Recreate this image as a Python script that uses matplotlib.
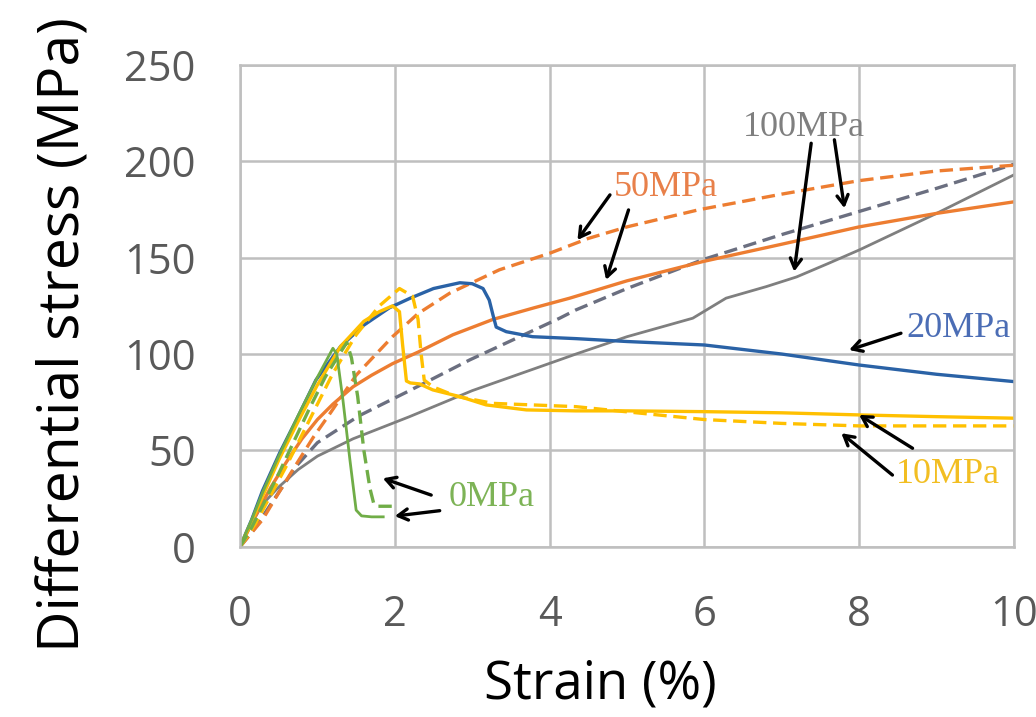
import numpy as np
import matplotlib.pyplot as plt

# strain (%) / differential stress (MPa)
x_0s = [0, 0.15, 0.3, 0.5, 0.75, 1.0, 1.2, 1.25, 1.33, 1.42, 1.50, 1.57, 1.7, 1.85]
y_0s = [0, 14, 29, 47, 68, 88, 103, 100, 76, 45, 19, 16, 15.5, 15.5]
x_0d = [0, 0.15, 0.3, 0.5, 0.7, 0.9, 1.1, 1.3, 1.38, 1.44, 1.52, 1.6, 1.68, 1.73, 1.78, 1.9, 2.04]
y_0d = [0, 10, 22, 38, 55, 72, 88, 101, 106, 98, 78, 50, 30, 22, 21, 21, 21]

x_10s = [0, 0.15, 0.3, 0.5, 0.75, 1.0, 1.3, 1.6, 1.8, 1.97, 2.06, 2.1, 2.15, 2.2, 2.32, 2.49, 2.84, 3.18, 3.7, 4.34, 5, 6, 7, 8, 9, 10]
y_10s = [0, 13, 27, 45, 65, 84, 104, 117, 122, 125, 122, 105, 86, 85, 84.5, 81.4, 77.9, 73.6, 71, 70.5, 70.5, 70.1, 69.5, 68.4, 67.5, 66.7]
x_10d = [0, 0.2, 0.4, 0.6, 0.9, 1.2, 1.5, 1.8, 2.06, 2.23, 2.3, 2.34, 2.38, 2.49, 2.8, 3.27, 4.34, 5, 6, 7, 8, 9, 10]
y_10d = [0, 12, 27, 42, 66, 90, 110, 125, 134, 130, 118, 100, 86.5, 83, 78, 74.4, 72.7, 70, 66, 64, 62.7, 62.7, 62.7]

x_20 = [0, 0.15, 0.29, 0.51, 0.73, 0.98, 1.3, 1.6, 1.93, 2.2, 2.5, 2.84, 3.0, 3.14, 3.22, 3.27, 3.31, 3.44, 3.78, 4.34, 5, 6, 7, 8, 9, 10]
y_20 = [0, 14, 29, 48.5, 66, 86.5, 104, 115, 124, 129, 134, 137, 136.5, 134, 128, 120, 114, 111.6, 109, 108, 106.5, 104.7, 100, 94.3, 89.5, 85.7]

x_50s = [0, 0.2, 0.4, 0.6, 0.8, 1.0, 1.2, 1.46, 1.7, 1.97, 2.3, 2.75, 3.27, 3.8, 4.26, 5.0, 5.98, 7.0, 8.0, 9.0, 10]
y_50s = [0, 16, 31, 44, 56, 66, 74, 83, 89, 95, 101, 110, 118, 124, 129, 138, 148, 157, 166, 173, 179]
x_50d = [0, 0.29, 0.5, 0.73, 0.95, 1.16, 1.5, 1.97, 2.3, 2.71, 3.35, 4.0, 4.5, 5.0, 5.94, 7, 8, 9, 10]
y_50d = [0, 14, 28, 43, 57, 69, 89, 109, 121, 131.6, 143.7, 152.3, 160, 166, 175, 183, 190, 195, 198]

x_100s = [0, 0.15, 0.29, 0.5, 0.75, 1.0, 1.46, 2.19, 3.0, 4.13, 4.34, 5.0, 5.85, 6.28, 6.8, 7.19, 7.6, 8.0, 9.0, 10]
y_100s = [0, 12, 22, 31, 40, 47, 56, 67.5, 81, 97, 100, 109, 118.6, 129, 135, 140, 147, 154, 173, 193]
x_100d = [0, 0.2, 0.38, 0.73, 1.0, 1.54, 2.19, 2.97, 4.13, 4.34, 5.0, 5.98, 7.0, 8.0, 9.0, 10]
y_100d = [0, 10, 21, 42, 54, 68, 81, 97, 118.6, 122.9, 134, 149, 162, 174, 186, 198.5]

c_green = '#70AD47'
c_yellow = '#FFC000'
c_blue = '#2A62A6'
c_orange = '#ED7D31'
c_gray = '#7F7F7F'
c_gray_d = '#6B6F80'

fig = plt.figure(figsize=(10.36, 7.17), dpi=100)
ax = fig.add_axes([0.2317, 0.2375, 0.747, 0.6718])

lw = 2.4
dash = (4, 2)
ax.plot(x_100s, y_100s, color=c_gray, lw=2.0)
ax.plot(x_100d, y_100d, color=c_gray_d, lw=lw, dashes=dash)
ax.plot(x_50s, y_50s, color=c_orange, lw=lw)
ax.plot(x_50d, y_50d, color=c_orange, lw=lw, dashes=dash)
ax.plot(x_20, y_20, color=c_blue, lw=lw)
ax.plot(x_10s, y_10s, color=c_yellow, lw=lw)
ax.plot(x_10d, y_10d, color=c_yellow, lw=lw, dashes=dash)
ax.plot(x_0s, y_0s, color=c_green, lw=2.0)
ax.plot(x_0d, y_0d, color=c_green, lw=lw, dashes=dash)

ax.set_xlim(0, 10)
ax.set_ylim(0, 250)
ax.set_xticks(np.arange(0, 11, 2))
ax.set_yticks(np.arange(0, 251, 50))
ax.grid(True, color='#BFBFBF', lw=1.8)
ax.set_axisbelow(True)
for s in ax.spines.values():
    s.set_color('#BFBFBF')
    s.set_linewidth(1.8)
ax.tick_params(length=0, labelsize=30, labelcolor='#595959')
ax.tick_params(axis='y', pad=32)
ax.tick_params(axis='x', pad=34)
for t in ax.get_xticklabels() + ax.get_yticklabels():
    t.set_family('Open Sans')

ax.set_xlabel('Strain (%)', fontsize=38, family='Open Sans', color='black')
ax.set_ylabel('Differential stress (MPa)', fontsize=41, family='Open Sans', color='black')
ax.xaxis.set_label_coords(0.465, -0.232)
ax.yaxis.set_label_coords(-0.19, 0.44)

# labels and arrows
serif = 'Liberation Serif'
tsize = 26
ax.text(3.25, 25.8, '0MPa', color='#7DB356', fontsize=tsize, family=serif, ha='center', va='center')
ax.text(5.50, 186.2, '50MPa', color='#E8804A', fontsize=tsize, family=serif, ha='center', va='center')
ax.text(7.28, 217.4, '100MPa', color='#7F7F7F', fontsize=tsize, family=serif, ha='center', va='center')
ax.text(9.28, 113.5, '20MPa', color='#4B6DB5', fontsize=tsize, family=serif, ha='center', va='center')
ax.text(9.14, 37.7, '10MPa', color='#F2BE22', fontsize=tsize, family=serif, ha='center', va='center')

arrows = [
    ((2.47, 26.8), (1.845, 35.5)),
    ((2.58, 18.7), (2.0, 15.9)),
    ((4.78, 182.6), (4.36, 159.2)),
    ((5.02, 174.8), (4.73, 138.5)),
    ((7.38, 209.4), (7.16, 142.8)),
    ((7.68, 211.2), (7.81, 175.7)),
    ((8.54, 110.8), (7.87, 102.1)),
    ((8.69, 51.1), (8.0, 68.4)),
    ((8.43, 37.2), (7.77, 58.9)),
]
for tail, head in arrows:
    ax.annotate('', xy=head, xytext=tail,
                arrowprops=dict(arrowstyle='->,head_length=0.7,head_width=0.4',
                                color='black', lw=2.4, shrinkA=0, shrinkB=0))

fig.savefig('out.png', dpi=100)
